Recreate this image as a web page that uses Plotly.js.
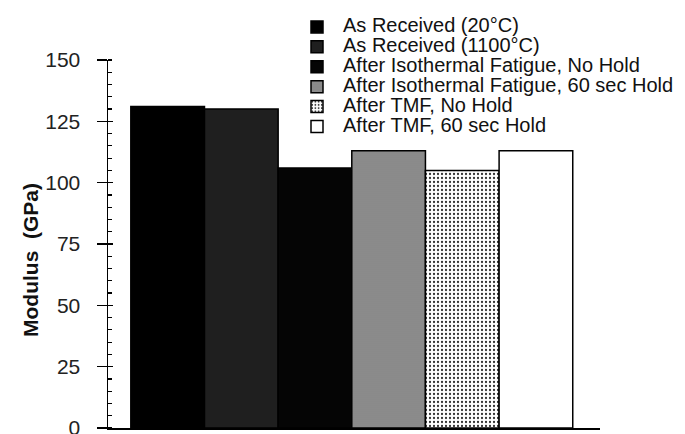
<!DOCTYPE html>
<html><head><meta charset="utf-8">
<script src="https://cdn.plot.ly/plotly-3.0.1.min.js"></script>
<style>html,body{margin:0;padding:0;background:#fff}#chart{width:685px;height:434px}</style>
</head><body><div id="chart"></div>
<script>
const categories = ["As Received (20°C)", "As Received (1100°C)", "After Isothermal Fatigue, No Hold", "After Isothermal Fatigue, 60 sec Hold", "After TMF, No Hold", "After TMF, 60 sec Hold"];
const modulus = [131, 130, 106, 113, 105, 113];
const yRange = [0, 150];
const majorStep = 25;
const minorStep = 5;

const fills = ["#000000", "#1f1f1f", "#050505", "#8e8e8e", "#ffffff", "#ffffff"];
const patterns = [
  {shape: ""}, {shape: ""}, {shape: ""},
  {shape: "-", fgcolor: "#777777", bgcolor: "#969696", size: 2, solidity: 0.4},
  {shape: ".", fgcolor: "#333333", bgcolor: "#ffffff", size: 4, solidity: 0.25},
  {shape: ""}
];

const traces = categories.map((c, i) => ({
  type: "bar",
  name: '<span style="font-size:20px">' + c + '</span>',
  x: [c],
  y: [modulus[i]],
  width: 1,
  marker: {color: fills[i], pattern: patterns[i], line: {color: "#000", width: 1.5}},
  hoverinfo: "y"
}));
// invisible helper so the overlay axis (inner half of crossing major ticks) is drawn
traces.push({type: "scatter", x: [categories[0]], y: [yRange[0]], yaxis: "y2", mode: "markers",
  marker: {opacity: 0}, showlegend: false, hoverinfo: "skip"});

const layout = {
  width: 685, height: 434,
  margin: {l: 108, r: 85, t: 60, b: 6},
  paper_bgcolor: "#fff", plot_bgcolor: "#fff",
  barmode: "overlay",
  font: {family: "Liberation Sans, Arial, sans-serif", color: "#111"},
  showlegend: true,
  legend: {
    x: (291 - 108) / 492, y: 1 + 48 / 368, xanchor: "left", yanchor: "top",
    bgcolor: "rgba(0,0,0,0)", font: {size: 13, color: "#111"},
    traceorder: "normal", tracegroupgap: 0, itemwidth: 42
  },
  xaxis: {
    type: "category", range: [-0.81, 5.87],
    showline: true, linecolor: "#000", linewidth: 2,
    ticks: "", showticklabels: false, showgrid: false, zeroline: false, fixedrange: true
  },
  yaxis: {
    range: yRange, tick0: 0, dtick: majorStep,
    ticks: "outside", ticklen: 10, tickwidth: 1.5, tickcolor: "#000",
    ticklabelstandoff: 12, ticklabeloverflow: "allow",
    minor: {dtick: minorStep, ticks: "inside", ticklen: 4, tickwidth: 1.2, tickcolor: "#000", showgrid: false},
    showline: true, linecolor: "#000", linewidth: 1.5,
    showgrid: false, zeroline: false, tickfont: {size: 21, color: "#222"}, fixedrange: true
  },
  yaxis2: {
    overlaying: "y", anchor: "x", side: "left", range: yRange, tick0: 0, dtick: majorStep,
    ticks: "inside", ticklen: 5, tickwidth: 1.5, tickcolor: "#000",
    showticklabels: false, showline: false, showgrid: false, zeroline: false, fixedrange: true
  },
  annotations: [{
    xref: "paper", yref: "paper",
    x: (30 - 108) / 492, y: (428 - 260) / 368,
    xanchor: "center", yanchor: "middle",
    text: "<b>Modulus  (GPa)</b>", textangle: -90, showarrow: false,
    font: {size: 21, color: "#111"}
  }]
};

Plotly.newPlot("chart", traces, layout, {displayModeBar: false, staticPlot: true});
</script></body></html>
